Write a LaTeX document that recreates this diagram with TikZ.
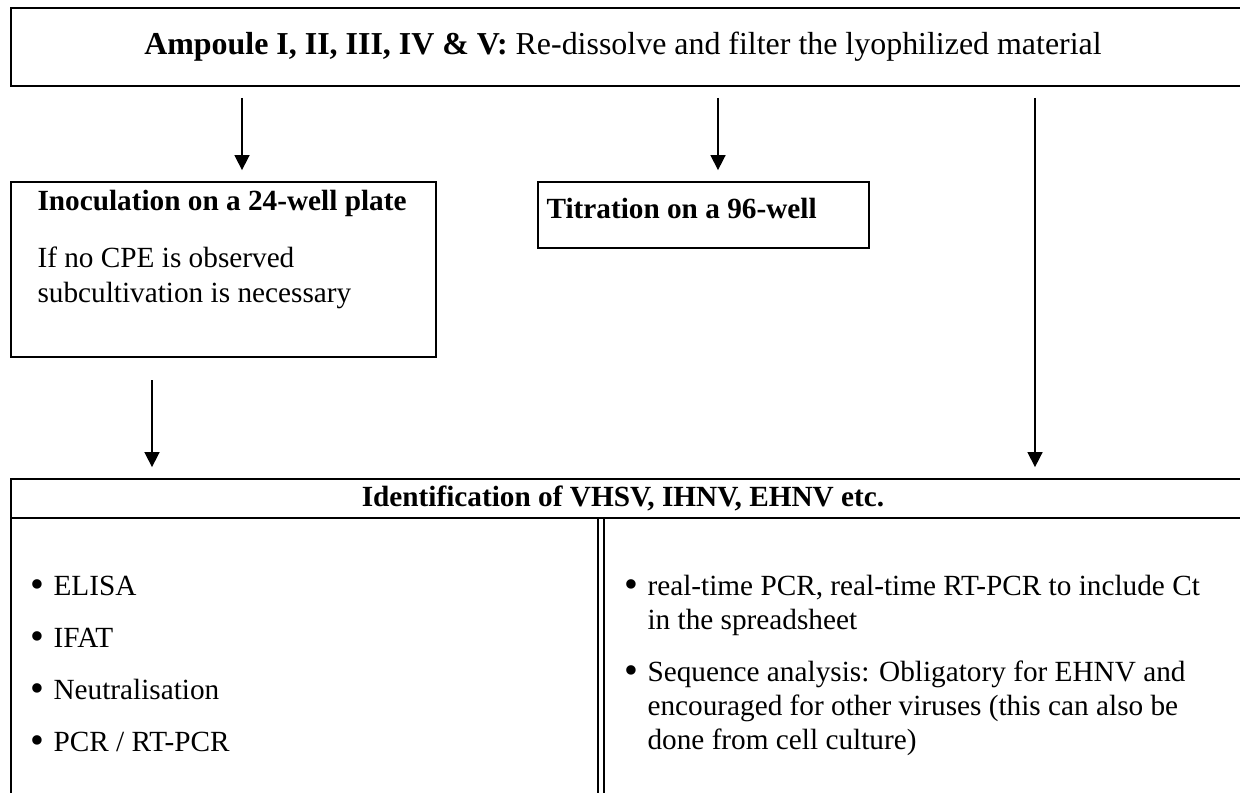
\documentclass[tikz,border=0pt]{standalone}
\usepackage{fontspec}
\setmainfont{Liberation Serif}
\usetikzlibrary{arrows.meta}
\newcommand{\bul}{\llap{\raisebox{-0.9pt}{\scalebox{1.35}{\textbullet}}\hspace{3.6pt}}}
\begin{document}
\begin{tikzpicture}[x=0.3759pt,y=-0.3759pt,
 box/.style={draw, line width=0.75pt, rectangle, inner sep=0pt, anchor=north west},
 arr/.style={line width=0.6pt, -{Triangle[length=5.6pt,width=5.6pt]}, shorten >=4.1pt},
 txt/.style={inner sep=0pt, anchor=base west, font={\fontsize{11}{12.65}\selectfont}},
 btxt/.style={txt, font={\fontsize{11}{12.65}\selectfont\bfseries}},
 rule/.style={line width=0.75pt}
 ]
\useasboundingbox (0,0) rectangle (1240,792);
\fill[white] (0,0) rectangle (1240,792);
% boxes
\node[box, minimum width=466.1pt, minimum height=29.3pt] (title) at (10,7) {};
\node[box, minimum width=159.8pt, minimum height=65.8pt] (inoc) at (10,181) {};
\node[box, minimum width=124.4pt, minimum height=24.8pt] (titr) at (537,181) {};
\node[box, minimum width=466.1pt, minimum height=121.0pt] (idbox) at (10,478) {};
\draw[rule] (10,518) -- (1250,518);
\draw[rule] (598,518) -- (598,800);
\draw[rule] (604,518) -- (604,800);
% texts
\node[txt, anchor=base, font={\fontsize{12}{13.8}\selectfont}] (ttext) at (623,55)
  {\textbf{Ampoule I, II, III, IV \& V:} Re-dissolve and filter the lyophilized material};
\node[btxt] (inoch) at (37,210) {Inoculation on a 24-well plate};
\node[txt] (inoc1) at (37,267) {If no CPE is observed};
\node[txt] (inoc2) at (37,302) {subcultivation is necessary};
\node[btxt] (titrh) at (546,218) {Titration on a 96-well};
\node[btxt, anchor=base] (idh) at (623,506) {Identification of VHSV, IHNV, EHNV etc.};
\node[txt] (l1) at (53,595) {\bul ELISA};
\node[txt] (l2) at (53,647) {\bul IFAT};
\node[txt] (l3) at (53,699) {\bul Neutralisation};
\node[txt] (l4) at (53,751) {\bul PCR / RT-PCR};
\node[txt] (r1) at (647,595) {\bul real-time PCR, real-time RT-PCR to include Ct};
\node[txt] (r1b) at (647,629) {in the spreadsheet};
\node[txt] (r2) at (647,681) {\bul Sequence analysis: Obligatory for EHNV and};
\node[txt] (r2b) at (647,715) {encouraged for other viruses (this can also be};
\node[txt] (r2c) at (647,749) {done from cell culture)};
% arrows
\coordinate (a1) at (242,98);
\coordinate (a2) at (718,98);
\coordinate (a3) at (1035,98);
\coordinate (a4) at (152,380);
\draw[arr] (a1) -- (a1 |- inoc.north);
\draw[arr] (a2) -- (a2 |- titr.north);
\draw[arr] (a3) -- (a3 |- idbox.north);
\draw[arr] (a4) -- (a4 |- idbox.north);
\end{tikzpicture}
\end{document}
